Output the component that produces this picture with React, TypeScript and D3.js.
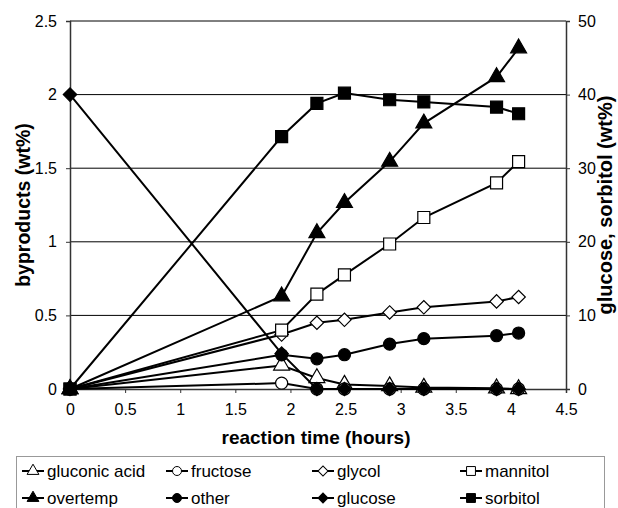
import React, { useRef, useEffect } from 'react';
import * as d3 from 'd3';

// reaction time (hours)
const times = [0, 1.92, 2.24, 2.49, 2.9, 3.21, 3.87, 4.07];

// byproducts, left axis (wt%)
const gluconicAcid = [0, 0.16, 0.075, 0.03, 0.02, 0.01, 0.005, 0];
const fructose = [0, 0.04, 0, 0, 0, 0, 0, 0];
const glycol = [0, 0.37, 0.45, 0.47, 0.52, 0.555, 0.595, 0.625];
const mannitol = [0, 0.4, 0.645, 0.775, 0.985, 1.165, 1.4, 1.545];
const overtemp = [0, 0.63, 1.06, 1.265, 1.545, 1.805, 2.12, 2.315];
const other = [0, 0.232, 0.205, 0.233, 0.305, 0.342, 0.362, 0.38];

// right axis (wt%)
const glucose = [40, 4.8, 0, 0, 0, 0, 0, 0];
const sorbitol = [0, 34.3, 38.8, 40.2, 39.3, 39.0, 38.3, 37.4];

const xTicks = [0, 0.5, 1, 1.5, 2, 2.5, 3, 3.5, 4, 4.5];
const yTicks = [0, 0.5, 1, 1.5, 2, 2.5];
const y2Ticks = [0, 10, 20, 30, 40, 50];

type Series = { name: string; values: number[]; axis: 'left' | 'right'; shape: string; filled: boolean };

const series: Series[] = [
  { name: 'gluconic acid', values: gluconicAcid, axis: 'left', shape: 'triangle', filled: false },
  { name: 'fructose', values: fructose, axis: 'left', shape: 'circle', filled: false },
  { name: 'glycol', values: glycol, axis: 'left', shape: 'diamond', filled: false },
  { name: 'mannitol', values: mannitol, axis: 'left', shape: 'square', filled: false },
  { name: 'overtemp', values: overtemp, axis: 'left', shape: 'triangle', filled: true },
  { name: 'other', values: other, axis: 'left', shape: 'circle', filled: true },
  { name: 'glucose', values: glucose, axis: 'right', shape: 'diamond', filled: true },
  { name: 'sorbitol', values: sorbitol, axis: 'right', shape: 'square', filled: true },
];

const FONT = 'Liberation Sans, Arial, sans-serif';

const symbolPath = (shape: string, scale: number) => {
  const sizes: Record<string, number> = { triangle: 110, circle: 115, diamond: 90, square: 144 };
  const types: Record<string, d3.SymbolType> = {
    triangle: d3.symbolTriangle,
    circle: d3.symbolCircle,
    diamond: d3.symbolSquare,
    square: d3.symbolSquare,
  };
  return d3.symbol().type(types[shape]).size(sizes[shape] * scale)() as string;
};

const App = () => {
  const ref = useRef<SVGSVGElement>(null);

  useEffect(() => {
    const svg = d3.select(ref.current).attr('width', 618).attr('height', 508);
    svg.selectAll('*').remove();

    const left = 70, right = 566, top = 21, bottom = 389;

    const x = d3.scaleLinear().domain([0, 4.5]).range([left, right]);
    const y = d3.scaleLinear().domain([0, 2.5]).range([bottom, top]);
    const y2 = d3.scaleLinear().domain([0, 50]).range([bottom, top]);

    svg.append('rect').attr('width', 618).attr('height', 508).attr('fill', '#fff');

    // gridlines
    svg.append('g')
      .selectAll('line')
      .data(yTicks.slice(1))
      .enter().append('line')
      .attr('x1', left).attr('x2', right)
      .attr('y1', d => y(d)).attr('y2', d => y(d))
      .attr('stroke', '#000').attr('stroke-width', 1);

    // axes
    const gx = svg.append('g')
      .attr('transform', `translate(0,${bottom})`)
      .call(d3.axisBottom(x).tickValues(xTicks).tickFormat(d3.format('')).tickSize(4).tickPadding(8));
    const gy = svg.append('g')
      .attr('transform', `translate(${left},0)`)
      .call(d3.axisLeft(y).tickValues(yTicks).tickFormat(d3.format('')).tickSize(4).tickPadding(9));
    const gy2 = svg.append('g')
      .attr('transform', `translate(${right},0)`)
      .call(d3.axisRight(y2).tickValues(y2Ticks).tickFormat(d3.format('')).tickSize(4).tickPadding(8));

    [gx, gy, gy2].forEach(g => {
      g.select('.domain').attr('stroke', '#333').attr('stroke-width', 1.5);
      g.selectAll('.tick line').attr('stroke', '#333');
      g.selectAll('.tick text')
        .attr('font-family', FONT).attr('font-size', 16).attr('fill', '#000');
    });
    gx.selectAll('.tick text').attr('dy', '0.85em');

    // axis titles
    svg.append('text')
      .attr('x', 316).attr('y', 444)
      .attr('text-anchor', 'middle')
      .attr('font-family', FONT).attr('font-size', 19).attr('font-weight', 'bold')
      .text('reaction time (hours)');
    svg.append('text')
      .attr('transform', `translate(30,205) rotate(-90)`)
      .attr('text-anchor', 'middle')
      .attr('font-family', FONT).attr('font-size', 19.5).attr('font-weight', 'bold')
      .text('byproducts (wt%)');
    svg.append('text')
      .attr('transform', `translate(612,205) rotate(-90)`)
      .attr('text-anchor', 'middle')
      .attr('font-family', FONT).attr('font-size', 20).attr('font-weight', 'bold')
      .text('glucose, sorbitol (wt%)');

    // series
    series.forEach(s => {
      const yy = s.axis === 'left' ? y : y2;
      const line = d3.line<number>()
        .x((_, i) => x(times[i]))
        .y(d => yy(d));
      const g = svg.append('g');
      g.append('path')
        .attr('d', line(s.values) as string)
        .attr('fill', 'none').attr('stroke', '#000').attr('stroke-width', 2);
      g.selectAll('path.m')
        .data(s.values)
        .enter().append('path')
        .attr('class', 'm')
        .attr('d', symbolPath(s.shape, 1))
        .attr('transform', (d, i) =>
          `translate(${x(times[i])},${yy(d)})` + (s.shape === 'diamond' ? ' rotate(45)' : ''))
        .attr('fill', s.filled ? '#000' : '#fff')
        .attr('stroke', '#000').attr('stroke-width', 1.2);
    });

    // legend
    const legend = svg.append('g');
    legend.append('rect')
      .attr('x', 16.5).attr('y', 456.5).attr('width', 588).attr('height', 70)
      .attr('fill', '#fff').attr('stroke', '#999').attr('stroke-width', 1);
    const colX = [22, 166, 312, 460];
    const rowY = [471, 498];
    series.forEach((s, i) => {
      const cx = colX[i % 4];
      const cy = rowY[Math.floor(i / 4)];
      const item = legend.append('g').attr('transform', `translate(${cx},${cy})`);
      item.append('line').attr('x1', 0).attr('x2', 22).attr('y1', 0).attr('y2', 0)
        .attr('stroke', '#000').attr('stroke-width', 2);
      item.append('path')
        .attr('d', symbolPath(s.shape, 0.55))
        .attr('transform', `translate(11,0)` + (s.shape === 'diamond' ? ' rotate(45)' : ''))
        .attr('fill', s.filled ? '#000' : '#fff')
        .attr('stroke', '#000').attr('stroke-width', 1);
      item.append('text')
        .attr('x', 25).attr('y', 0).attr('dy', '0.35em')
        .attr('font-family', FONT).attr('font-size', 17)
        .text(s.name);
    });
  }, []);

  return <svg ref={ref} style={{ position: 'absolute', left: 0, top: 0 }}></svg>;
};

export default App;
